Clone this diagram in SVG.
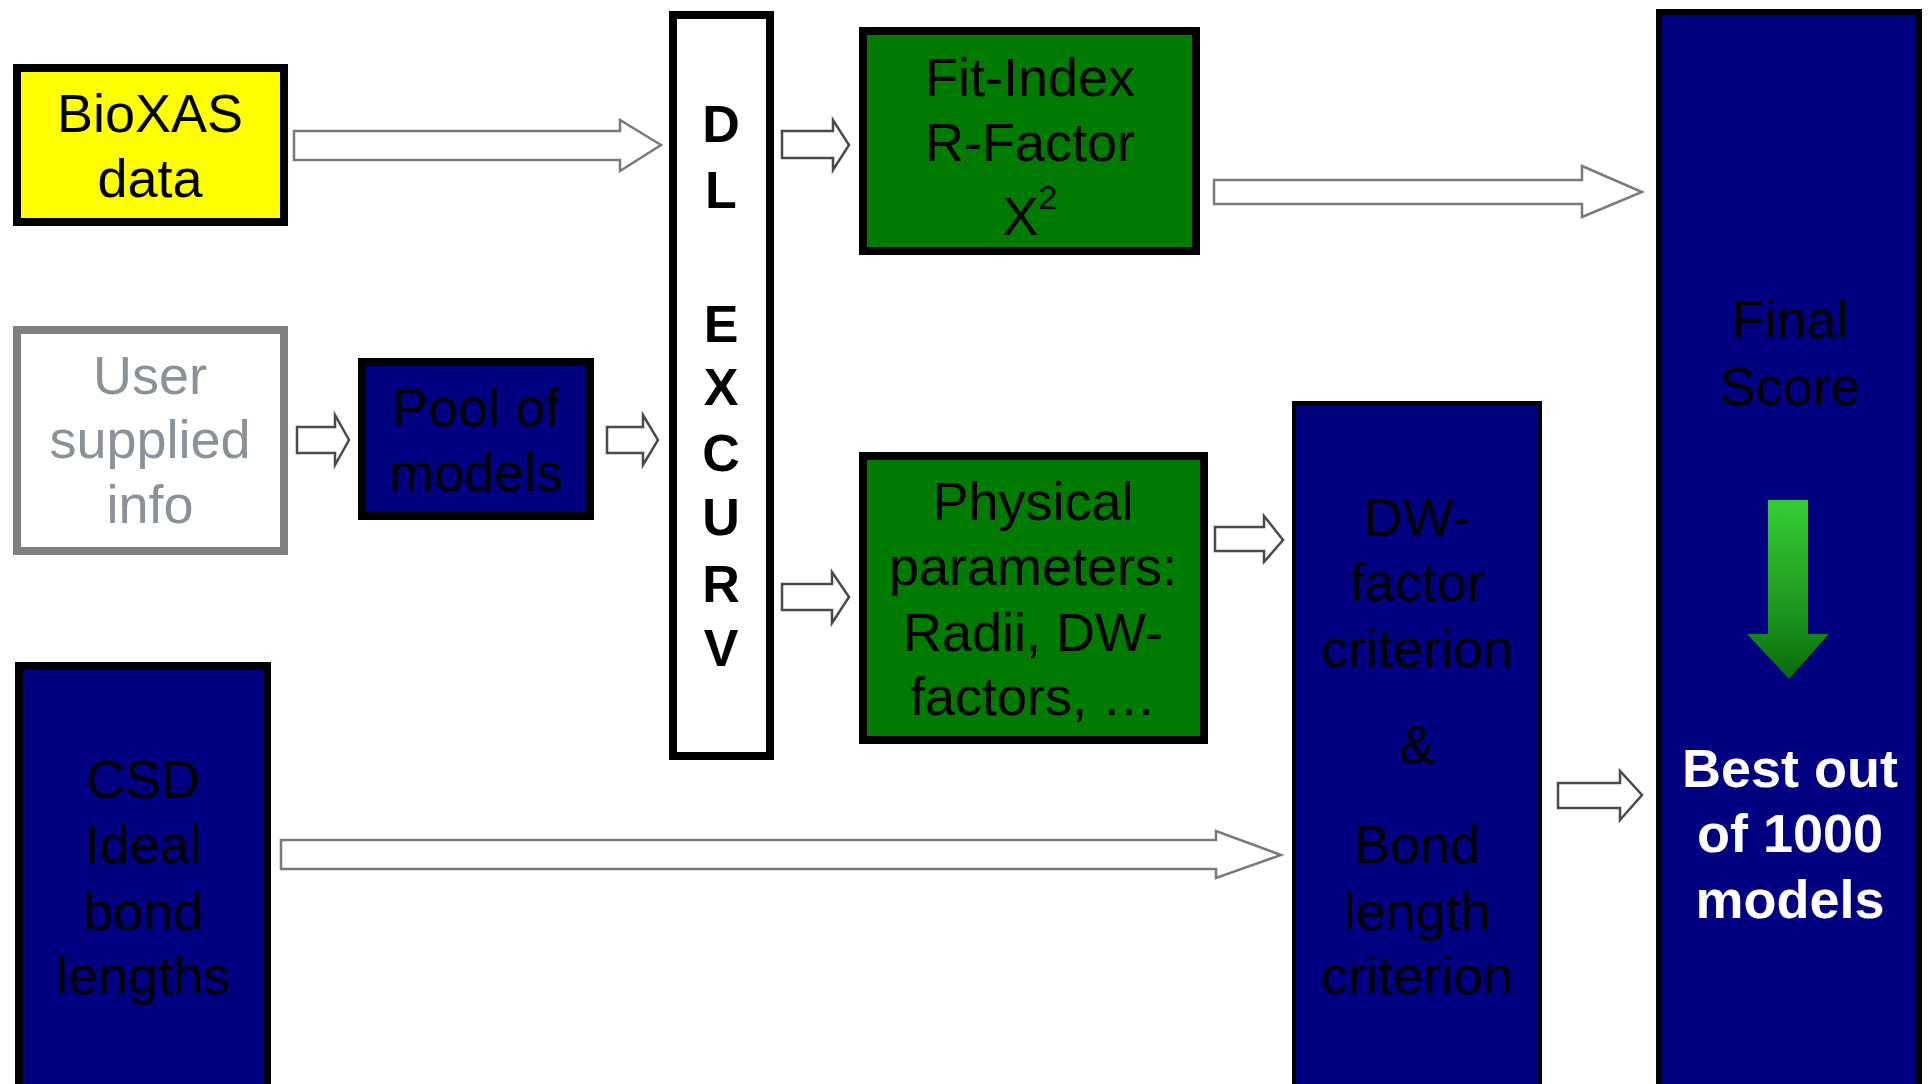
<svg xmlns="http://www.w3.org/2000/svg" width="1932" height="1084" viewBox="0 0 1932 1084">
<defs>
<style>
.t{font-family:"Liberation Sans",Arial,sans-serif;font-size:54px;text-anchor:middle;fill:#000}
.b{font-weight:bold}
.dl{font-family:"Liberation Sans",Arial,sans-serif;font-size:52px;font-weight:bold;text-anchor:middle;fill:#000}
.navy{fill:#000080;stroke:#000;stroke-width:8}
.green{fill:#007A00;stroke:#000;stroke-width:8}
.arr{fill:#fff;stroke:#7a7a7a;stroke-width:2.5;stroke-linejoin:miter}
.arrs{fill:#fff;stroke:#4a4a4a;stroke-width:2.5;stroke-linejoin:miter}
</style>
<linearGradient id="gg" x1="0" y1="0" x2="0" y2="1">
<stop offset="0" stop-color="#35CC35"/>
<stop offset="0.6" stop-color="#1E9A1E"/>
<stop offset="1" stop-color="#0A6A0A"/>
</linearGradient>
</defs>
<rect width="1932" height="1084" fill="#fff"/>

<g id="connectors">
<path class="arr" d="M294,131 H620 V120 L661,145 L620,171 V160 H294 Z"/>
<path class="arr" d="M1214,180 H1582 V166 L1642,192 L1582,217 V204 H1214 Z"/>
<path class="arr" d="M281,840 H1216 V831 L1281,855 L1216,878 V869 H281 Z"/>
<path class="arrs" d="M297,427 H335 V415 L349,440 L335,465 V453 H297 Z"/>
<path class="arrs" d="M607,427 H643 V415 L658,440 L643,465 V453 H607 Z"/>
<path class="arrs" d="M782,131 H833 V120 L849,145 L833,170 V158 H782 Z"/>
<path class="arrs" d="M782,584 H832 V572 L849,597 L832,623 V610 H782 Z"/>
<path class="arrs" d="M1215,527 H1264 V516 L1283,540 L1264,562 V551 H1215 Z"/>
<path class="arrs" d="M1558,783 H1620 V771 L1642,795 L1620,820 V808 H1558 Z"/>
</g>

<g id="bioxas">
<rect x="17" y="68" width="267" height="154" fill="#FFFF00" stroke="#000" stroke-width="8"/>
<text class="t" x="150" y="132">BioXAS</text>
<text class="t" x="150" y="197">data</text>
</g>

<g id="user">
<rect x="17" y="330" width="267" height="221" fill="#fff" stroke="#808080" stroke-width="8"/>
<text class="t" x="150" y="394" style="fill:#8A919B">User</text>
<text class="t" x="150" y="458" style="fill:#8A919B">supplied</text>
<text class="t" x="150" y="523" style="fill:#8A919B">info</text>
</g>

<g id="pool">
<rect class="navy" x="362" y="362" width="228" height="154"/>
<text class="t" x="476" y="426">Pool of</text>
<text class="t" x="476" y="491">models</text>
</g>

<g id="dlexcurv">
<rect x="673" y="15" width="97" height="741" fill="#fff" stroke="#000" stroke-width="8"/>
<text class="dl" x="721" y="142">D</text>
<text class="dl" x="721" y="208">L</text>
<text class="dl" x="721" y="342">E</text>
<text class="dl" x="721" y="405">X</text>
<text class="dl" x="721" y="471">C</text>
<text class="dl" x="721" y="535">U</text>
<text class="dl" x="721" y="602">R</text>
<text class="dl" x="721" y="666">V</text>
</g>

<g id="fitindex">
<rect class="green" x="863" y="31" width="333" height="220"/>
<text class="t" x="1030" y="96">Fit-Index</text>
<text class="t" x="1030" y="161">R-Factor</text>
<text class="t" x="1030" y="235">X<tspan font-size="34" dy="-26">2</tspan></text>
</g>

<g id="physical">
<rect class="green" x="863" y="456" width="341" height="284"/>
<text class="t" x="1033" y="520">Physical</text>
<text class="t" x="1033" y="585">parameters:</text>
<text class="t" x="1033" y="651">Radii, DW-</text>
<text class="t" x="1033" y="715">factors, …</text>
</g>

<g id="csd">
<rect class="navy" x="19" y="666" width="248" height="440"/>
<text class="t" x="143" y="798">CSD</text>
<text class="t" x="143" y="863">Ideal</text>
<text class="t" x="143" y="930">bond</text>
<text class="t" x="143" y="994">lengths</text>
</g>

<g id="criteria">
<rect x="1294" y="403" width="246" height="700" fill="#000080" stroke="#000" stroke-width="4"/>
<text class="t" x="1417" y="536">DW-</text>
<text class="t" x="1417" y="601">factor</text>
<text class="t" x="1417" y="667">criterion</text>
<text class="t" x="1417" y="763">&amp;</text>
<text class="t" x="1417" y="863">Bond</text>
<text class="t" x="1417" y="930">length</text>
<text class="t" x="1417" y="994">criterion</text>
</g>

<g id="final">
<rect x="1659" y="12" width="260" height="1090" fill="#000080" stroke="#000" stroke-width="6"/>
<text class="t" x="1790" y="338">Final</text>
<text class="t" x="1790" y="405">Score</text>
<path d="M1768,500 H1808 V634 H1829 L1789,679 L1747,634 H1768 Z" fill="url(#gg)"/>
<text class="t b" x="1790" y="787" style="fill:#fff">Best out</text>
<text class="t b" x="1790" y="852" style="fill:#fff">of 1000</text>
<text class="t b" x="1790" y="918" style="fill:#fff">models</text>
</g>
</svg>
